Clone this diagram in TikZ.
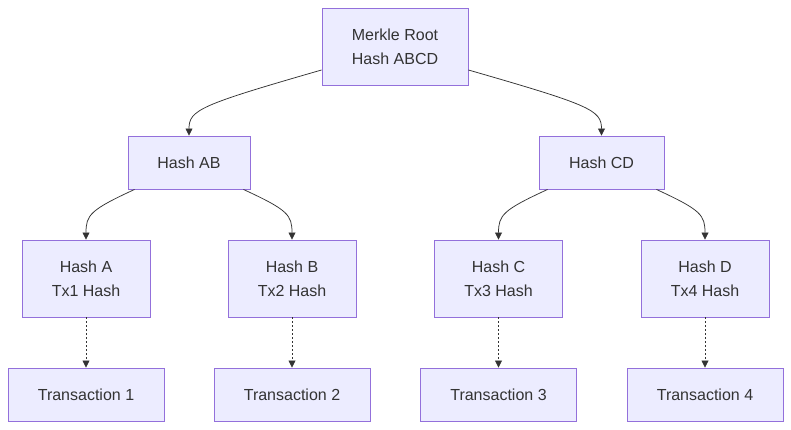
\documentclass[tikz,border=0pt]{standalone}
\usepackage{fontspec}
\setmainfont{Liberation Sans}
\usetikzlibrary{arrows.meta}
\definecolor{nfill}{HTML}{ECECFF}
\definecolor{nstroke}{HTML}{9370DB}
\definecolor{ink}{HTML}{333333}
\begin{document}
\begin{tikzpicture}[x=1pt,y=-1pt,
  box/.style={draw=nstroke,fill=nfill,line width=0.9pt,text=ink,font=\fontsize{16}{24}\selectfont,align=center,inner sep=0pt},
  edge/.style={draw=ink,line width=0.75pt,-{Triangle[length=7pt,width=7pt]}},
  dot/.style={edge,dash pattern=on 2pt off 2pt}]
\useasboundingbox (0,0) rectangle (791,430);
\node[box,minimum width=146pt,minimum height=77pt] (root) at (395,46.5) {Merkle Root\\Hash ABCD};
\node[box,minimum width=122pt,minimum height=53pt] (ab) at (189,162.5) {Hash AB};
\node[box,minimum width=125pt,minimum height=53pt] (cd) at (601.5,162.5) {Hash CD};
\foreach \n/\x/\a/\b in {a/86/Hash A/Tx1 Hash, b/292/Hash B/Tx2 Hash, c/498.5/Hash C/Tx3 Hash, d/705/Hash D/Tx4 Hash}{
  \node[box,minimum width=128pt,minimum height=77pt] (\n) at (\x,278.5) {\a\\\b};
}
\foreach \n/\x/\t in {t1/86/Transaction 1, t2/292/Transaction 2, t3/498.5/Transaction 3, t4/705/Transaction 4}{
  \node[box,minimum width=156pt,minimum height=53pt] (\n) at (\x,394.5) {\t};
}
\coordinate (r1) at ([yshift=-23.5pt]root.west);
\coordinate (r2) at ([yshift=-23.5pt]root.east);
\draw[edge] (r1) .. controls (200,105) and (189,110) .. (ab.north);
\draw[edge] (r2) .. controls (590,105) and (601.5,110) .. (cd.north);
\draw[edge] ([xshift=7pt]ab.south west) .. controls (90,210) and (86,215) .. (a.north);
\draw[edge] ([xshift=-7pt]ab.south east) .. controls (288,210) and (292,215) .. (b.north);
\draw[edge] ([xshift=9pt]cd.south west) .. controls (503,210) and (498.5,215) .. (c.north);
\draw[edge] ([xshift=-8pt]cd.south east) .. controls (701,210) and (705,215) .. (d.north);
\foreach \u/\v in {a/t1,b/t2,c/t3,d/t4} \draw[dot] (\u) -- (\v);
\end{tikzpicture}
\end{document}
